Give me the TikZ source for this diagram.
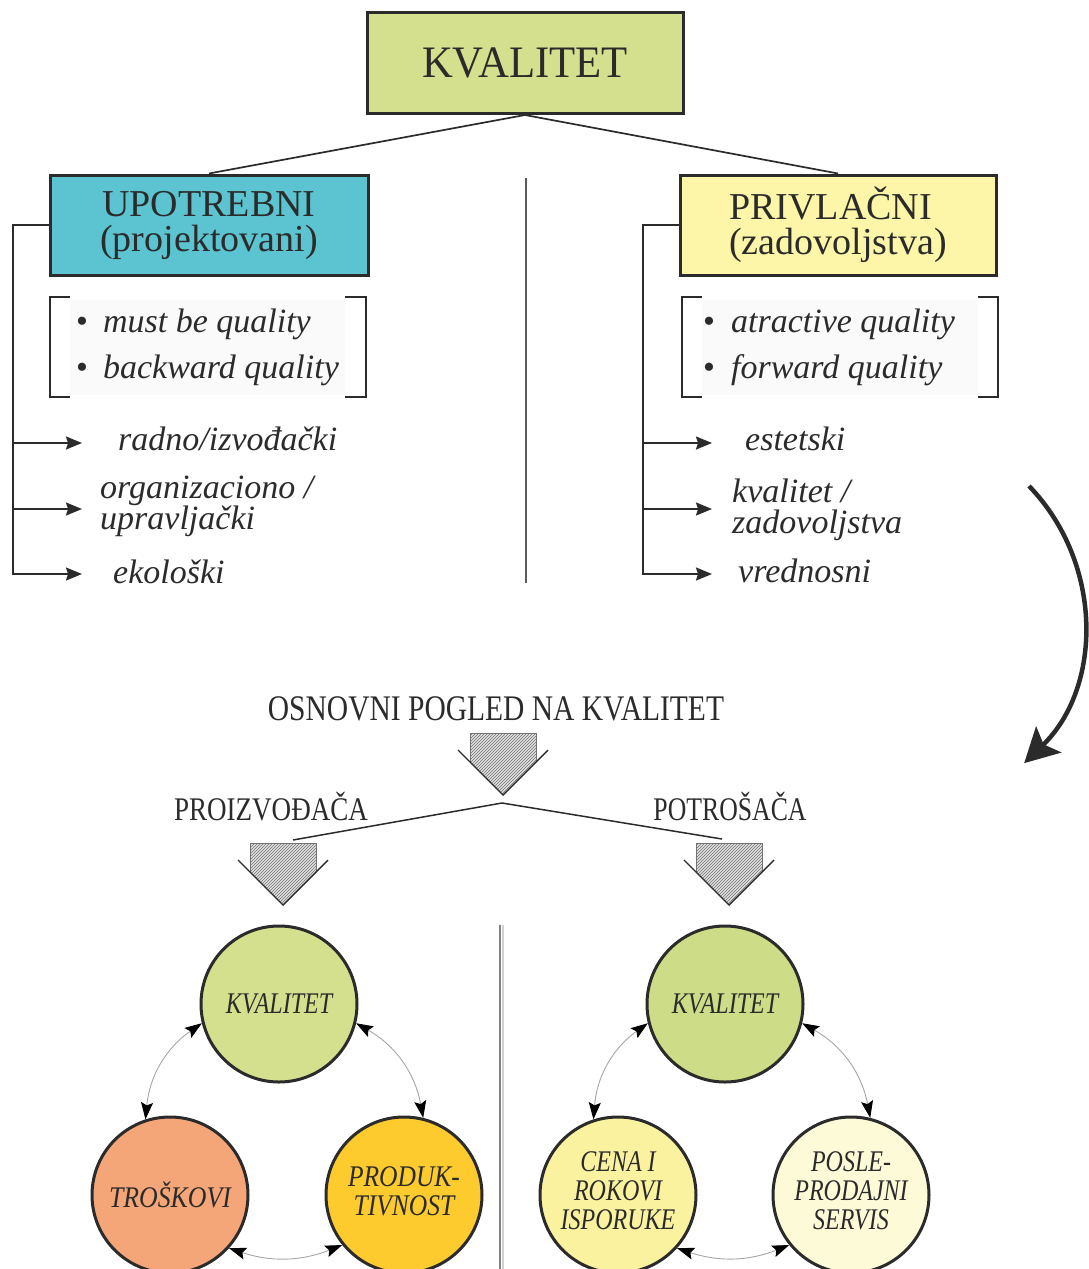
\documentclass[tikz,border=0pt]{standalone}
\usepackage{fontspec}
\setmainfont{Liberation Serif}
\usetikzlibrary{arrows.meta,patterns}

\definecolor{ink}{HTML}{2B2B2B}
\definecolor{kgreen}{HTML}{D4E08D}
\definecolor{kgreenb}{HTML}{CDDC87}
\definecolor{ucyan}{HTML}{5BC4D0}
\definecolor{pyellow}{HTML}{FDF5A8}
\definecolor{torange}{HTML}{F5A678}
\definecolor{pgold}{HTML}{FECB2F}
\definecolor{cyellow}{HTML}{FBF2A0}
\definecolor{spale}{HTML}{FDFAD7}

\newcommand\squeeze[2]{\scalebox{#1}[1]{#2}}

\tikzset{
  hatchdown/.pic={
    \fill[black!12] (-33,-62) -- (33,-62) -- (33,-33) -- (0,0) -- (-33,-33) -- cycle;
    \fill[pattern=north east lines, pattern color=black!55] (-33,-62) -- (33,-62) -- (33,-33) -- (0,0) -- (-33,-33) -- cycle;
    \draw[black!55, line width=0.8pt] (-33,-33) -- (-33,-62) -- (33,-62) -- (33,-33);
    \draw[ink, line width=1.4pt] (-45,-45) -- (0,0) -- (45,-45);
  }
}

\begin{document}
\begin{tikzpicture}[x=1pt, y=-1pt,
  topbox/.style={rectangle, draw=ink, line width=3pt, inner sep=0pt, text=ink},
  conn/.style={draw=ink, line width=1.7pt},
  arr/.style={conn, -{Stealth[length=16pt, width=13pt, inset=2pt]}},
  lbl/.style={anchor=base west, inner sep=0pt, text=ink, font=\fontsize{34}{34}\selectfont\itshape},
  headline/.style={anchor=base, inner sep=0pt, text=ink},
  bubble/.style={circle, draw=ink, line width=3pt, minimum size=156pt, inner sep=0pt, text=ink,
                 font=\fontsize{30}{29}\selectfont\itshape},
  cyc/.style={draw=black!35, line width=0.9pt,
              {Stealth[length=17pt, width=12pt, inset=3pt, color=black]}-{Stealth[length=17pt, width=12pt, inset=3pt, color=black]}},
  bracket/.style={draw=ink, line width=2pt}
]
\useasboundingbox (0,0) rectangle (1088,1269);

% ---------- upper part ----------
\node[topbox, fill=kgreen, minimum width=316pt, minimum height=101pt,
      font=\fontsize{45}{50}\selectfont] (top) at (525,63) {\squeeze{0.95}{KVALITET}};

\node[topbox, fill=ucyan, minimum width=318pt, minimum height=100pt, align=center,
      font=\fontsize{38}{35}\selectfont] (up) at (209,225) {UPOTREBNI\\(projektovani)};
\node[topbox, fill=pyellow, minimum width=316pt, minimum height=100pt, align=left,
      font=\fontsize{38}{35}\selectfont] (pr) at (838,225) {PRIVLAČNI\\(zadovoljstva)};

\draw[conn] (top.south) -- (up.north);
\draw[conn] (top.south) -- (pr.north);

% middle divider
\draw[black!65, line width=2pt] (526,178) -- (526,583);

% bullet lists in brackets
\fill[black!2] (70,300) rectangle (345,395);
\fill[black!2] (702,300) rectangle (978,395);
\draw[bracket] (70,297) -- (50,297) -- (50,397) -- (70,397);
\draw[bracket] (345,297) -- (366,297) -- (366,397) -- (345,397);
\draw[bracket] (702,297) -- (682,297) -- (682,397) -- (702,397);
\draw[bracket] (978,297) -- (998,297) -- (998,397) -- (978,397);

\node[lbl] (m1) at (76,332) {\textup{\textbullet}\hspace{15pt}must be quality};
\node[lbl] (m2) at (76,378) {\textup{\textbullet}\hspace{15pt}backward quality};
\node[lbl] (a1t) at (703,332) {\textup{\textbullet}\hspace{16pt}atractive quality};
\node[lbl] (a2t) at (703,378) {\textup{\textbullet}\hspace{16pt}forward quality};

% left branch
\coordinate (tl) at (13,225);
\coordinate (la1) at (82,443);
\coordinate (la2) at (82,509);
\coordinate (la3) at (82,574);
\draw[arr] (up.west) -- (tl) |- (la3);
\draw[arr] (tl |- la1) -- (la1);
\draw[arr] (tl |- la2) -- (la2);
\node[lbl] (radno) at (118,450) {radno/izvođački};
\node[lbl] (org1) at (100,498) {organizaciono /};
\node[lbl] (org2) at (100,529) {upravljački};
\node[lbl] (eko) at (113,583) {ekološki};

% right branch
\coordinate (tr) at (643,225);
\coordinate (ra1) at (712,443);
\coordinate (ra2) at (712,509);
\coordinate (ra3) at (712,574);
\draw[arr] (pr.west) -- (tr) |- (ra3);
\draw[arr] (tr |- ra1) -- (ra1);
\draw[arr] (tr |- ra2) -- (ra2);
\node[lbl] (est) at (745,450) {estetski};
\node[lbl] (kz1) at (732,502) {kvalitet /};
\node[lbl] (kz2) at (732,533) {zadovoljstva};
\node[lbl] (vred) at (738,582) {vrednosni};

% large curved arrow on the right
\coordinate (ca) at (1029,486);
\draw[ink, line width=4.5pt, -{Stealth[length=34pt, width=36pt, inset=7pt]}]
  (ca) arc[start angle=-44, end angle=46, radius=196];

% ---------- lower part ----------
\node[headline, font=\fontsize{36}{36}\selectfont] (osn) at (496,720) {\squeeze{0.82}{OSNOVNI POGLED NA KVALITET}};
\pic at (503,795) {hatchdown};

\coordinate (pk) at (502,803);
\coordinate (pl) at (293,840);
\coordinate (pp) at (722,839);
\draw[ink, line width=1.5pt] (pl) -- (pk) -- (pp);

\node[headline, font=\fontsize{33}{33}\selectfont] (proi) at (271,820) {\squeeze{0.82}{PROIZVOĐAČA}};
\node[headline, font=\fontsize{33}{33}\selectfont] (potr) at (730,820) {\squeeze{0.78}{POTROŠAČA}};
\pic at (283,905) {hatchdown};
\pic at (729,905) {hatchdown};

% lower divider (double line)
\draw[black!50, line width=2pt] (500,925) -- (500,1269);
\draw[black!18, line width=2pt] (503,925) -- (503,1269);

% producer's triangle
\node[bubble, fill=kgreen] (k1) at (279,1004) {\squeeze{0.8}{KVALITET}};
\node[bubble, fill=torange] (t1) at (170,1195) {\squeeze{0.86}{TROŠKOVI}};
\node[bubble, fill=pgold] (p1) at (404,1195)
  {\squeeze{0.85}{\begin{tabular}{@{}c@{}}PRODUK-\\TIVNOST\end{tabular}}};
\draw[cyc] (k1.194) to[bend right=25] (t1.108);
\draw[cyc] (k1.-14) to[bend left=25] (p1.76);
\draw[cyc] (t1.-42) to[bend right=20] (p1.219);

% consumer's triangle
\node[bubble, fill=kgreenb] (k2) at (725,1004) {\squeeze{0.8}{KVALITET}};
\node[bubble, fill=cyellow] (c2) at (618,1195)
  {\squeeze{0.8}{\begin{tabular}{@{}c@{}}CENA I\\ROKOVI\\ISPORUKE\end{tabular}}};
\node[bubble, fill=spale] (s2) at (851,1195)
  {\squeeze{0.8}{\begin{tabular}{@{}c@{}}POSLE-\\PRODAJNI\\SERVIS\end{tabular}}};
\draw[cyc] (k2.194) to[bend right=25] (c2.108);
\draw[cyc] (k2.-14) to[bend left=25] (s2.76);
\draw[cyc] (c2.-42) to[bend right=20] (s2.219);

\end{tikzpicture}
\end{document}
